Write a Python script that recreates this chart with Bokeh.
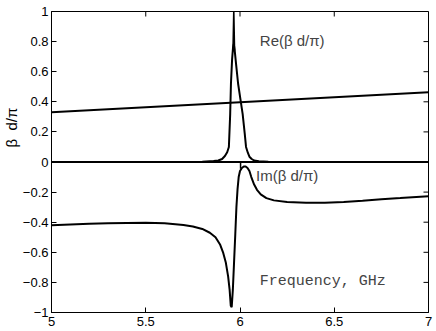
import math
from bokeh.plotting import figure
from bokeh.models import FixedTicker, Label, Range1d, Title
from bokeh.embed import file_html
from bokeh.resources import INLINE

# ---- data ----
line_f = [5.0, 7.0]
line_re = [0.33, 0.463]

zero_f = [5.0, 7.0]
zero_v = [0.0, 0.0]

re_f = [5.0, 5.8, 5.86, 5.885, 5.905, 5.92, 5.932, 5.941, 5.948, 5.952, 5.958, 5.963, 5.967,
        5.972, 5.98, 5.99, 6.002, 6.014, 6.025, 6.032, 6.042, 6.05, 6.062, 6.075, 6.1, 6.15, 7.0]
re_v = [0.0, 0.002, 0.006, 0.01, 0.02, 0.04, 0.065, 0.1, 0.32, 0.52, 0.68, 0.76, 0.785,
        0.74, 0.64, 0.52, 0.42, 0.32, 0.19, 0.1, 0.06, 0.035, 0.02, 0.01, 0.005, 0.002, 0.0]

spike_f = [5.963, 5.967, 5.971]
spike_v = [0.74, 1.0, 0.74]

step_f = [6.003, 6.003]
step_v = [0.0, -0.045]

im_f = [5.0, 5.1, 5.2, 5.3, 5.4, 5.5, 5.6, 5.7, 5.75, 5.8, 5.84, 5.87, 5.895, 5.91, 5.925,
        5.937, 5.945, 5.951, 5.956, 5.962, 5.968, 5.975, 5.981, 5.987, 5.993, 6.0, 6.01,
        6.02, 6.03, 6.04, 6.05, 6.06, 6.075, 6.09, 6.11, 6.14, 6.18, 6.25, 6.35, 6.45, 6.55,
        6.65, 6.75, 6.85, 7.0]
im_v = [-0.42, -0.415, -0.41, -0.407, -0.405, -0.404, -0.407, -0.418, -0.428, -0.445, -0.47,
        -0.5, -0.55, -0.6, -0.67, -0.76, -0.85, -0.955, -0.965, -0.85, -0.68, -0.48, -0.3,
        -0.18, -0.1, -0.06, -0.04, -0.03, -0.03, -0.04, -0.06, -0.1, -0.15, -0.185, -0.215,
        -0.24, -0.255, -0.265, -0.27, -0.27, -0.265, -0.258, -0.248, -0.24, -0.227]

x_ticks = [5, 5.5, 6, 6.5, 7]
x_tick_labels = ["5", "5.5", "6", "6.5", "7"]
y_ticks = [-1, -0.8, -0.6, -0.4, -0.2, 0, 0.2, 0.4, 0.6, 0.8, 1]
y_tick_labels = ["\u22121", "\u22120.8", "\u22120.6", "\u22120.4", "\u22120.2", "0",
                 "0.2", "0.4", "0.6", "0.8", "1"]

FONT = "Liberation Sans"
X0, X1, Y0, Y1 = 5, 7, -1, 1

p = figure(width=436, height=331, output_backend="svg", toolbar_location=None,
           x_range=Range1d(X0, X1), y_range=Range1d(Y0, Y1),
           min_border_left=46, min_border_right=8, min_border_top=11, min_border_bottom=19)
p.background_fill_color = "white"
p.border_fill_color = "white"
p.outline_line_color = "black"
p.outline_line_width = 1
p.grid.visible = False

for ax in p.xaxis:
    ax.ticker = FixedTicker(ticks=x_ticks)
    ax.major_label_overrides = {t: l for t, l in zip(x_ticks, x_tick_labels)}
for ax in p.yaxis:
    ax.ticker = FixedTicker(ticks=y_ticks)
    ax.major_label_overrides = {t: l for t, l in zip(y_ticks, y_tick_labels)}

for ax in list(p.xaxis) + list(p.yaxis):
    ax.major_tick_in = 5
    ax.major_tick_out = 0
    ax.minor_tick_line_color = None
    ax.axis_line_color = "black"
    ax.major_tick_line_color = "black"
    ax.major_label_text_font = FONT
    ax.major_label_text_font_size = "13px"
    ax.major_label_text_color = "black"
p.xaxis.major_label_standoff = 4
p.yaxis.major_label_standoff = 3

# inward ticks on the top and right edges of the box
p.ray(x=x_ticks, y=[Y1] * len(x_ticks), length=5, length_units="screen",
      angle=-math.pi / 2, line_color="black", line_width=1)
p.ray(x=[X1] * len(y_ticks), y=y_ticks, length=5, length_units="screen",
      angle=math.pi, line_color="black", line_width=1)

lw = 2
p.line(zero_f, zero_v, line_color="black", line_width=2.2)
p.line(line_f, line_re, line_color="black", line_width=lw)
p.line(re_f, re_v, line_color="black", line_width=lw)
p.line(spike_f, spike_v, line_color="black", line_width=1.6)
p.line(step_f, step_v, line_color="black", line_width=1.5)
p.line(im_f, im_v, line_color="black", line_width=lw)

p.add_layout(Label(x=6.105, y=0.807, text="Re(\u03b2 d/\u03c0)", text_font=FONT,
                   text_font_size="15px", text_baseline="middle", text_align="left"))
p.add_layout(Label(x=6.085, y=-0.09, text="Im(\u03b2 d/\u03c0)", text_font=FONT,
                   text_font_size="15px", text_baseline="middle", text_align="left"))
p.add_layout(Label(x=6.105, y=-0.794, text="Frequency, GHz", text_font="Liberation Mono",
                   text_font_size="15px", text_baseline="middle", text_align="left"))

ylab = Title(text="\u03b2\u00a0\u00a0d/\u03c0", align="left", offset=165, standoff=0,
             text_font=FONT, text_font_size="15px", text_font_style="normal",
             text_color="black")
p.add_layout(ylab, "left")

open("out.html", "w").write(file_html(p, INLINE))
